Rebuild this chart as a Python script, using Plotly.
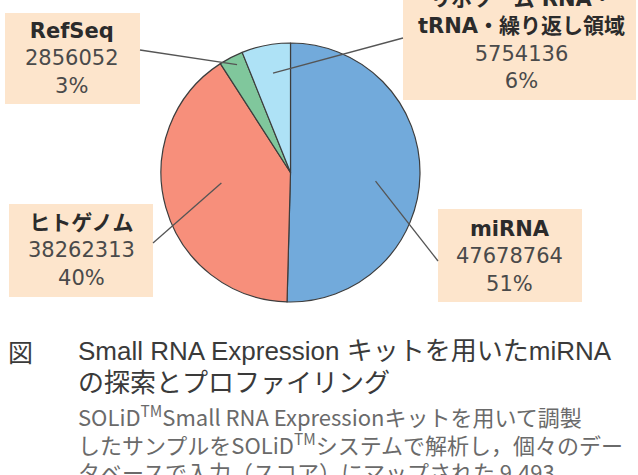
import math
import plotly.graph_objects as go

# ---- data ----
labels = ["miRNA", "ヒトゲノム", "RefSeq", "リボソーム RNA・<br>tRNA・繰り返し領域"]
counts = [47678764, 38262313, 2856052, 5754136]
pct_labels = ["51%", "40%", "3%", "6%"]
colors = ["#72aadb", "#f78f7b", "#80c79c", "#aee2f6"]

caption_head = "図"
caption_title = ["Small RNA Expression キットを用いたmiRNA", "の探索とプロファイリング"]
caption_body = ["SOLiD<sup>TM</sup>Small RNA Expressionキットを用いて調製",
                "したサンプルをSOLiD<sup>TM</sup>システムで解析し，個々のデー",
                "タベースで入力（スコア）にマップされた 9,493"]

W, H = 638, 475
# pie geometry (pixels)
PX0, PX1, PY0, PY1 = 161, 420, 43, 302
cx, cy, R = (PX0 + PX1) / 2, (PY0 + PY1) / 2, (PX1 - PX0) / 2

# label box layout (pixels): box rect, text centre, leader outer point, leader radius fraction, angle nudge (deg)
boxes = [
    dict(rect=(438, 209, 582, 302), tc=(510, 256), out=(438, 261), rf=0.66, da=5),
    dict(rect=(9, 204, 153, 297), tc=(81, 250), out=(153, 243), rf=0.54, da=7),
    dict(rect=(5, 13, 140, 104), tc=(72, 59), out=(140, 50), rf=0.93, da=1),
    dict(rect=(403, -20, 636, 100), tc=(521, 40), out=(403, 38), rf=0.78, da=1),
]

def px(x):
    return x / W

def py(y):
    return 1 - y / H

fig = go.Figure()
fig.add_trace(go.Pie(
    labels=[l.replace("<br>", "") for l in labels], values=counts,
    sort=False, direction="clockwise", rotation=0,
    marker=dict(colors=colors, line=dict(color="#3d3d3d", width=1.2)),
    textinfo="none", hoverinfo="label+value+percent",
    domain=dict(x=[px(PX0), px(PX1)], y=[py(PY1), py(PY0)]),
    showlegend=False,
))

shapes = []
annotations = []
total = sum(counts)
cum = 0
for lab, c, p, b in zip(labels, counts, pct_labels, boxes):
    mid = (cum + c / 2) / total * 2 * math.pi + math.radians(b["da"])
    cum += c
    x0, y0, x1, y1 = b["rect"]
    shapes.append(dict(type="rect", xref="paper", yref="paper",
                       x0=px(x0), x1=px(x1), y0=py(y1), y1=py(y0),
                       fillcolor="#fde5cc", line=dict(width=0), layer="below"))
    ix = cx + b["rf"] * R * math.sin(mid)
    iy = cy - b["rf"] * R * math.cos(mid)
    ox, oy = b["out"]
    shapes.append(dict(type="line", xref="paper", yref="paper",
                       x0=px(ox), y0=py(oy), x1=px(ix), y1=py(iy),
                       line=dict(color="#555555", width=1.3), layer="above"))
    name = "<br>".join("<b>%s</b>" % s for s in lab.split("<br>"))
    text = (f"<span style='color:#2b2b2b'>{name}</span><br>"
            f"{c}<br>{p}")
    tx, ty = b["tc"]
    annotations.append(dict(xref="paper", yref="paper", x=px(tx), y=py(ty),
                            xanchor="center", yanchor="middle", showarrow=False,
                            text=text, align="center",
                            font=dict(family="DejaVu Sans, Noto Sans CJK JP", size=21, color="#4a4a4a")))

# caption
title_font = "Liberation Sans, Noto Sans CJK JP"
body_font = "Noto Sans CJK JP"
annotations.append(dict(xref="paper", yref="paper", x=px(6), y=py(351), xanchor="left", yanchor="middle",
                        showarrow=False, text=caption_head,
                        font=dict(family=body_font, size=25, color="#3a3a3a")))
for i, line in enumerate(caption_title):
    annotations.append(dict(xref="paper", yref="paper", x=px(76), y=py(351 + 32 * i), xanchor="left",
                            yanchor="middle", showarrow=False, text=line,
                            font=dict(family=title_font, size=26, color="#3a3a3a")))
for i, line in enumerate(caption_body):
    annotations.append(dict(xref="paper", yref="paper", x=px(76), y=py(415 + 28 * i), xanchor="left",
                            yanchor="middle", showarrow=False, text=line,
                            font=dict(family=body_font, size=22, color="#6a6a6a")))

fig.update_layout(
    width=W, height=H, margin=dict(l=0, r=0, t=0, b=0),
    paper_bgcolor="white", plot_bgcolor="white",
    shapes=shapes, annotations=annotations,
)
fig.write_html("out.html")
